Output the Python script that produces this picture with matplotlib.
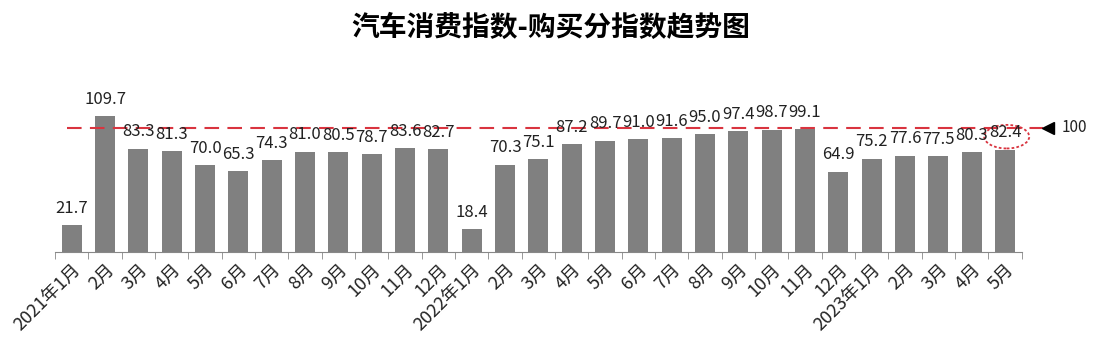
import matplotlib
matplotlib.use('Agg')
import matplotlib.pyplot as plt
from matplotlib.patches import Ellipse
import numpy as np

plt.rcParams['font.family'] = ['Noto Sans CJK SC', 'DejaVu Sans']

months = ["2021年1月", "2月", "3月", "4月", "5月", "6月", "7月", "8月", "9月", "10月", "11月", "12月",
          "2022年1月", "2月", "3月", "4月", "5月", "6月", "7月", "8月", "9月", "10月", "11月", "12月",
          "2023年1月", "2月", "3月", "4月", "5月"]
values = [21.7, 109.7, 83.3, 81.3, 70.0, 65.3, 74.3, 81.0, 80.5, 78.7, 83.6, 82.7,
          18.4, 70.3, 75.1, 87.2, 89.7, 91.0, 91.6, 95.0, 97.4, 98.7, 99.1,
          64.9, 75.2, 77.6, 77.5, 80.3, 82.4]
baseline = 100

fig = plt.figure(figsize=(11.01, 3.53), dpi=100)
ax = fig.add_axes([0.05, 0.286, 0.878, 0.485])

x = np.arange(len(values))
ax.bar(x, values, width=0.6, color="#808080")

for xi, v in zip(x, values):
    ax.annotate(f"{v:.1f}", (xi, v), xytext=(0, 6), textcoords="offset points",
                ha="center", va="bottom", fontsize=12, color="#222222")

ax.set_xlim(-0.5, len(values) - 0.5)
ax.set_ylim(0, 138)

# reference line at 100
red = "#d9343f"
ax.plot([-0.14, 29.13], [baseline, baseline], color=red, lw=1.5, dashes=(7, 4), clip_on=False)
ax.plot([29.3], [baseline], marker="<", color="black", markersize=8, clip_on=False)
ax.text(29.7, baseline, "100", va="center", ha="left", fontsize=11, color="#222222")

# highlight the last value
ax.add_patch(Ellipse((28.05, 93), 1.35, 19, fill=False, edgecolor=red,
                     lw=1.3, linestyle=(0, (1.5, 1.2)), clip_on=False))

for s in ["top", "right", "left"]:
    ax.spines[s].set_visible(False)
ax.spines["bottom"].set_color("#888888")
ax.set_yticks([])

ax.set_xticks(x)
ax.set_xticklabels(months, rotation=45, ha="right", rotation_mode="anchor", fontsize=13, color="#222222")
ax.tick_params(axis="x", which="major", length=0, pad=6)
ax.set_xticks(np.arange(-0.5, len(values)), minor=True)
ax.tick_params(axis="x", which="minor", length=5, color="#888888")

fig.suptitle("汽车消费指数-购买分指数趋势图", x=0.5, y=0.96, fontsize=20, fontweight="bold")

fig.savefig("out.png", dpi=100)
